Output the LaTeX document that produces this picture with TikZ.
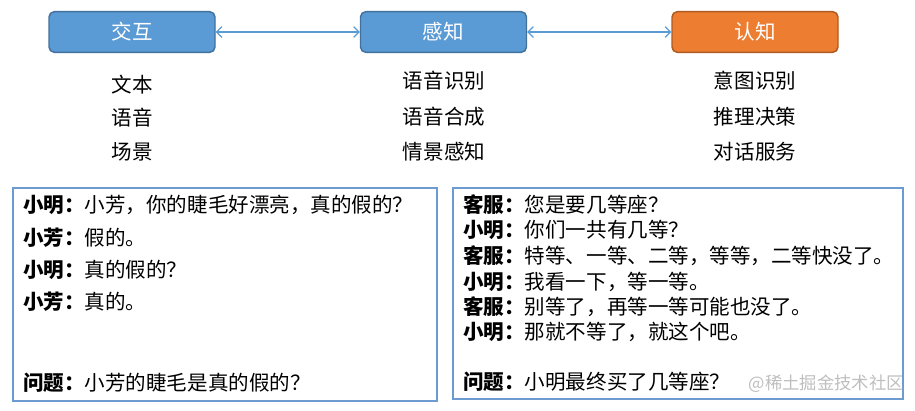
\documentclass[tikz,border=0pt]{standalone}
\usepackage{fontspec}
\setmainfont{Noto Sans CJK SC}
\usetikzlibrary{arrows.meta}
\definecolor{boxblue}{RGB}{91, 155, 213}
\definecolor{boxblueline}{RGB}{65, 113, 156}
\definecolor{boxorange}{RGB}{237, 125, 49}
\definecolor{boxorangeline}{RGB}{174, 90, 33}
\definecolor{frameblue}{RGB}{108, 155, 210}
\definecolor{markgray}{RGB}{190, 190, 190}
\newcommand{\cnsize}{\fontsize{15.4pt}{18pt}\selectfont}
\tikzset{
	stagebox/.style={draw, line width=1.1pt, rounded corners=4pt, minimum width=124.5pt, minimum height=30.5pt, text=white, font=\cnsize},
	linkarrow/.style={draw=boxblue, line width=0.9pt, {Straight Barb[length=4pt,width=8pt]}-{Straight Barb[length=4pt,width=8pt]}},
	itemtext/.style={inner sep=0pt, font=\cnsize},
	talkline/.style={anchor=west, inner sep=0pt, font=\cnsize},
	talkframe/.style={draw=frameblue, line width=1.5pt}
}

\begin{document}
\begin{tikzpicture}[x=0.75pt, y=-0.75pt]
			\useasboundingbox (0, 0) rectangle (915, 411);
			% top row
			\node [stagebox, fill=boxblue, draw=boxblueline] (jiaohu) at (132, 32) {交互};
			\node [stagebox, fill=boxblue, draw=boxblueline] (ganzhi) at (443.5, 32) {感知};
			\node [stagebox, fill=boxorange, draw=boxorangeline] (renzhi) at (755, 32) {认知};
			\draw [linkarrow] (jiaohu) -- (ganzhi);
			\draw [linkarrow] (ganzhi) -- (renzhi);
			% items under each box
			\node [itemtext] (wenben) at (132.5, 85) {文本};
			\node [itemtext] (yuyin) at (132.5, 118) {语音};
			\node [itemtext] (changjing) at (132.5, 152) {场景};
			\node [itemtext] (shibie) at (444, 81) {语音识别};
			\node [itemtext] (hecheng) at (444, 117) {语音合成};
			\node [itemtext] (qingjing) at (444, 152) {情景感知};
			\node [itemtext] (yitu) at (755, 81) {意图识别};
			\node [itemtext] (tuili) at (755, 117) {推理决策};
			\node [itemtext] (fuwu) at (755, 152) {对话服务};
			% left dialogue
			\draw [talkframe] (13, 188) rectangle (437, 401);
			\node [talkline] (la) at (23, 205) {\textbf{小明：}小芳，你的睫毛好漂亮，真的假的？};
			\node [talkline] (lb) at (23, 238) {\textbf{小芳：}假的。};
			\node [talkline] (lc) at (23, 270) {\textbf{小明：}真的假的？};
			\node [talkline] (ld) at (23, 302) {\textbf{小芳：}真的。};
			\node [talkline] (lq) at (23, 383) {\textbf{问题：}小芳的睫毛是真的假的？};
			% right dialogue
			\draw [talkframe] (453, 188) rectangle (903, 399);
			\node [talkline] (ra) at (463, 205) {\textbf{客服：}您是要几等座？};
			\node [talkline] (rb) at (463, 230) {\textbf{小明：}你们一共有几等？};
			\node [talkline] (rc) at (463, 256) {\textbf{客服：}特等、一等、二等，等等，二等快没了。};
			\node [talkline] (rd) at (463, 282) {\textbf{小明：}我看一下，等一等。};
			\node [talkline] (re) at (463, 307) {\textbf{客服：}别等了，再等一等可能也没了。};
			\node [talkline] (rf) at (463, 332) {\textbf{小明：}那就不等了，就这个吧。};
			\node [talkline] (rq) at (463, 382) {\textbf{问题：}小明最终买了几等座？};
			\node [anchor=east, inner sep=0pt, text=markgray, font=\fontsize{13pt}{15pt}\selectfont] (watermark) at (904, 384) {@稀土掘金技术社区};
		\end{tikzpicture}
\end{document}
